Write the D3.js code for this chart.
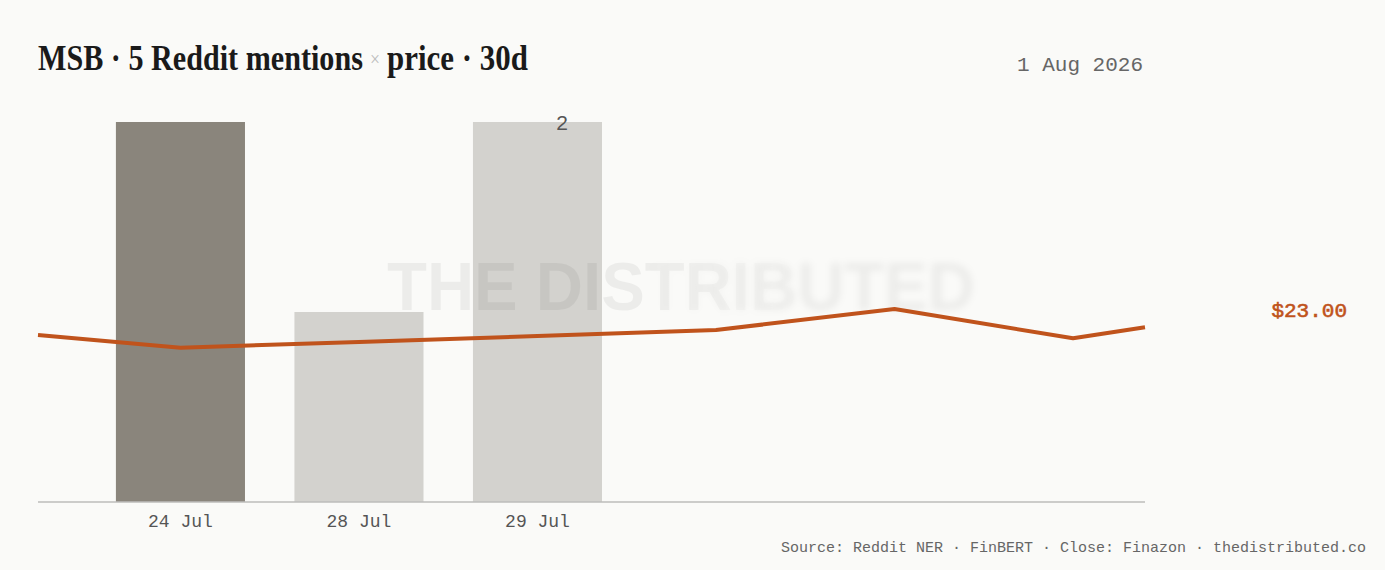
<!DOCTYPE html>
<html><head><meta charset="utf-8">
<script src="https://cdn.jsdelivr.net/npm/d3@7"></script>
<style>
html,body{margin:0;padding:0;background:#fafaf8;}
svg{display:block;}
</style></head>
<body>
<svg id="chart" width="1385" height="570"></svg>
<script>
// ---- data ----
const days = ["24 Jul", "28 Jul", "29 Jul", "30 Jul", "31 Jul", "1 Aug"];
const mentions = [2, 1, 2, 0, 0, 0];
const highlightDay = "24 Jul";
const prices = [20.30, 21.05, 21.84, 22.63, 25.39, 21.54];
const priceLead = 21.97;   // price at left edge of window
const priceLast = 23.00;   // latest close (right edge)
const tickLabels = ["24 Jul", "28 Jul", "29 Jul"];
const titleParts = ["MSB · 5 Reddit mentions", "×", "price · 30d"];
const dateLabel = "1 Aug 2026";
const sourceText = "Source: Reddit NER · FinBERT · Close: Finazon · thedistributed.co";
const watermark = "THE DISTRIBUTED";

const W = 1385, H = 570;
const m = {left: 38, right: 1145, top: 122, bottom: 502};
const svg = d3.select("#chart");
svg.append("rect").attr("width", W).attr("height", H).attr("fill", "#fafaf8");

const x = d3.scaleBand().domain(days).range([m.left, m.right])
  .paddingInner(0.277).paddingOuter(0.239).align(0.913);
const y = d3.scaleLinear().domain([0, d3.max(mentions)]).range([m.bottom, m.top]);
const yp = d3.scaleLinear().domain([0, 50]).range([m.bottom, m.top]);

// title (three separate pieces, horizontally scaled to fit)
const serif = "'Liberation Serif', 'DejaVu Serif', serif";
function fitText(str, x0, y0, width, size, fill, weight) {
  const g = svg.append("g");
  const t = g.append("text").attr("x", 0).attr("y", 0)
    .attr("font-family", serif).attr("font-weight", weight).attr("font-size", size)
    .attr("fill", fill).text(str);
  const w = t.node().getComputedTextLength();
  g.attr("transform", `translate(${x0},${y0}) scale(${width / w},1)`);
  return t;
}
fitText(titleParts[0], 38, 70, 325, 35, "#1a1a1a", "bold");
fitText(titleParts[1], 370, 66, 10, 20, "#bdbdbd", "normal");
fitText(titleParts[2], 387, 70, 141, 35, "#1a1a1a", "bold");

svg.append("text").attr("x", 1143).attr("y", 71).attr("text-anchor", "end")
  .attr("font-family", "'Liberation Mono', 'DejaVu Sans Mono', monospace")
  .attr("font-size", 21).attr("fill", "#666").text(dateLabel);

// bars
const barData = days.map((d, i) => ({day: d, v: mentions[i]})).filter(d => d.v > 0);
svg.append("g").selectAll("rect").data(barData).join("rect")
  .attr("x", d => x(d.day)).attr("width", x.bandwidth())
  .attr("y", d => y(d.v)).attr("height", d => y(0) - y(d.v))
  .attr("fill", d => d.day === highlightDay ? "#8a857c" : "#d3d2ce");

// value label on last max bar
const lastMax = barData.filter(d => d.v === d3.max(mentions)).slice(-1)[0];
svg.append("text").attr("x", x(lastMax.day) + x.bandwidth() * 0.69).attr("y", y(lastMax.v) + 8)
  .attr("text-anchor", "middle")
  .attr("font-family", "'Liberation Sans', Arial, sans-serif").attr("font-size", 21)
  .attr("fill", "#555").text(lastMax.v);

// watermark
const defs = svg.append("defs");
defs.append("filter").attr("id", "blur").attr("x", "-10%").attr("y", "-30%").attr("width", "120%").attr("height", "160%")
  .append("feGaussianBlur").attr("stdDeviation", 3.5);
const g1 = defs.append("linearGradient").attr("id", "gSharp").attr("gradientUnits", "userSpaceOnUse")
  .attr("x1", 640).attr("x2", 800).attr("y1", 0).attr("y2", 0);
g1.append("stop").attr("offset", 0).attr("stop-color", "#fff");
g1.append("stop").attr("offset", 1).attr("stop-color", "#000");
const g2 = defs.append("linearGradient").attr("id", "gBlur").attr("gradientUnits", "userSpaceOnUse")
  .attr("x1", 640).attr("x2", 800).attr("y1", 0).attr("y2", 0);
g2.append("stop").attr("offset", 0).attr("stop-color", "#000");
g2.append("stop").attr("offset", 1).attr("stop-color", "#fff");
defs.append("mask").attr("id", "mSharp").attr("maskUnits", "userSpaceOnUse")
  .append("rect").attr("width", W).attr("height", H).attr("fill", "url(#gSharp)");
defs.append("mask").attr("id", "mBlur").attr("maskUnits", "userSpaceOnUse")
  .append("rect").attr("width", W).attr("height", H).attr("fill", "url(#gBlur)");
function wm(sel) {
  return sel.append("text").attr("x", 387).attr("y", 310)
    .attr("font-family", "'Liberation Sans', Arial, sans-serif").attr("font-weight", "bold")
    .attr("font-size", 69).attr("fill", "#000").attr("fill-opacity", 0.055)
    .attr("textLength", 588).attr("lengthAdjust", "spacingAndGlyphs").text(watermark);
}
wm(svg.append("g").attr("mask", "url(#mSharp)"));
wm(svg.append("g").attr("mask", "url(#mBlur)")).attr("filter", "url(#blur)");

// axis baseline + ticks
svg.append("line").attr("x1", m.left).attr("x2", m.right).attr("y1", m.bottom).attr("y2", m.bottom)
  .attr("stroke", "#bdbdbb").attr("stroke-width", 1.5);
const xAxis = d3.axisBottom(x).tickSize(0).tickPadding(0)
  .tickFormat(d => tickLabels.includes(d) ? d : "");
const ax = svg.append("g").attr("transform", `translate(0,${m.bottom + 12})`).call(xAxis);
ax.select(".domain").remove();
ax.selectAll("text").attr("font-family", "'Liberation Mono', 'DejaVu Sans Mono', monospace")
  .attr("font-size", 18).attr("fill", "#555");

// price line
const pts = [[m.left, priceLead]]
  .concat(days.map((d, i) => [x(d) + x.bandwidth() / 2, prices[i]]))
  .concat([[m.right, priceLast]]);
svg.append("path").datum(pts)
  .attr("d", d3.line().x(d => d[0]).y(d => yp(d[1])))
  .attr("fill", "none").attr("stroke", "#c0531c").attr("stroke-width", 4)
  .attr("stroke-linejoin", "round");

svg.append("text").attr("x", 1347).attr("y", yp(priceLast) - 10).attr("text-anchor", "end")
  .attr("font-family", "'Liberation Mono', 'DejaVu Sans Mono', monospace")
  .attr("font-size", 21).attr("fill", "#c0531c")
  .attr("stroke", "#c0531c").attr("stroke-width", 0.6)
  .text("$" + priceLast.toFixed(2));

svg.append("text").attr("x", 1366).attr("y", 552).attr("text-anchor", "end")
  .attr("font-family", "'Liberation Mono', 'DejaVu Sans Mono', monospace")
  .attr("font-size", 15).attr("fill", "#666").text(sourceText);
</script>
</body></html>
